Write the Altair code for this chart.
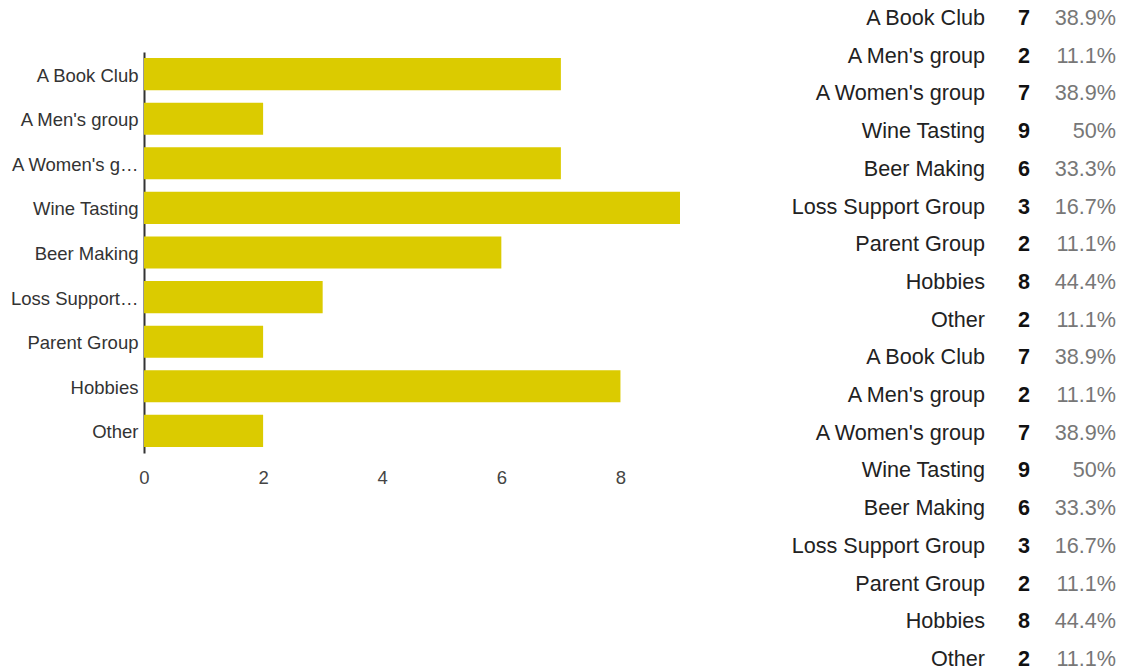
import altair as alt
import pandas as pd

categories = ["A Book Club", "A Men's group", "A Women's group", "Wine Tasting",
              "Beer Making", "Loss Support Group", "Parent Group", "Hobbies", "Other"]
counts = [7, 2, 7, 9, 6, 3, 2, 8, 2]
percents = ["38.9%", "11.1%", "38.9%", "50%", "33.3%", "16.7%", "11.1%", "44.4%", "11.1%"]
x_ticks = [0, 2, 4, 6, 8]

bars_df = pd.DataFrame({"category": categories, "count": counts})

# the summary table is shown twice in the reference
table_rows = []
for rep in range(2):
    for c, n, p in zip(categories, counts, percents):
        table_rows.append({"row": len(table_rows), "category": c, "count": n, "pct": p})
table_df = pd.DataFrame(table_rows)

FONT = "Liberation Sans"

bars = alt.Chart(bars_df).mark_bar(color="#DBCB00").encode(
    x=alt.X("count:Q", scale=alt.Scale(domain=[0, 9], nice=False),
            axis=alt.Axis(values=x_ticks, title=None, grid=False, domain=False, ticks=False,
                          labelFontSize=18.5, labelColor="#444444", labelPadding=15,
                          labelFlush=False, labelFont=FONT, format="d")),
    y=alt.Y("category:N", sort=categories,
            scale=alt.Scale(paddingInner=0.28, paddingOuter=0.135),
            axis=alt.Axis(title=None, ticks=False, domain=True, domainColor="#333333",
                          domainWidth=2, labelFontSize=18.5, labelColor="#333333",
                          labelPadding=6, labelLimit=128, labelOffset=1.5, labelFont=FONT)),
)

row_y = alt.Y("row:Q", scale=alt.Scale(domain=[0, 17], range=[-33, 608]), axis=None)

cat_text = alt.Chart(table_df).mark_text(
    align="right", baseline="middle", fontSize=21.6, font=FONT, color="#222222"
).encode(x=alt.value(841), y=row_y, text="category:N")

count_text = alt.Chart(table_df).mark_text(
    align="center", baseline="middle", fontSize=21.6, font=FONT, fontWeight="bold", color="#111111"
).encode(x=alt.value(880), y=row_y, text="count:Q")

pct_text = alt.Chart(table_df).mark_text(
    align="right", baseline="middle", fontSize=21.6, font=FONT, color="#777777"
).encode(x=alt.value(972), y=row_y, text="pct:N")

chart = alt.layer(bars, cat_text, count_text, pct_text).resolve_scale(
    y="independent"
).properties(
    width=536, height=401,
    background="white",
    autosize=alt.AutoSizeParams(type="none"),
    padding={"left": 136, "top": 44, "right": 437, "bottom": 215},
).configure_view(strokeWidth=0, stroke="transparent")

chart.save("out.html", embed_options={"renderer": "svg", "actions": False})
